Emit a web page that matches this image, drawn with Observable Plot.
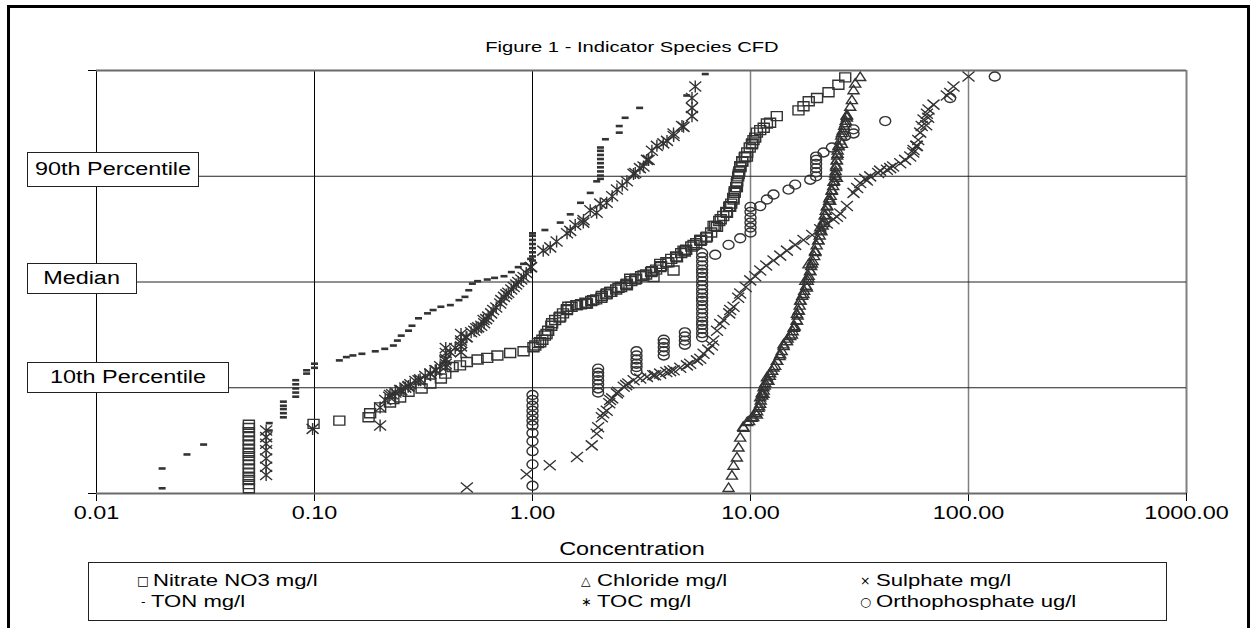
<!DOCTYPE html>
<html><head><meta charset="utf-8">
<script src="https://cdn.jsdelivr.net/npm/d3@7"></script>
<script src="https://cdn.jsdelivr.net/npm/@observablehq/plot@0.6"></script>
<style>
html,body{margin:0;padding:0;background:#fff;}
#wrap{position:relative;width:1257px;height:628px;overflow:hidden;font-family:"Liberation Sans",Arial,sans-serif;color:#000;background:#fff;}
#frame{position:absolute;left:7px;top:5px;width:1243px;height:700px;border:3px solid #000;box-sizing:border-box;}
#chart{position:absolute;left:0;top:0;}
.sx{display:inline-block;transform:scaleX(1.3);transform-origin:center;white-space:nowrap;}
.sxl{display:inline-block;transform:scaleX(1.3);transform-origin:left center;white-space:nowrap;}
.title{position:absolute;left:132px;width:1000px;top:37px;text-align:center;font-size:15.5px;line-height:20px;}
.xlab{position:absolute;left:132px;width:1000px;top:538px;text-align:center;font-size:18px;line-height:22px;}
.ybox{position:absolute;background:#fff;border:1.5px solid #222;box-sizing:border-box;display:flex;align-items:center;justify-content:center;font-size:18px;}
#legend{position:absolute;left:88px;top:562px;width:1079px;height:59px;border:1.5px solid #222;box-sizing:border-box;background:#fff;}
.li{position:absolute;font-size:17px;line-height:20px;white-space:nowrap;}
.sym{position:absolute;font-family:"DejaVu Sans",sans-serif;font-size:12.5px;line-height:20px;}
</style>
</head>
<body>
<div id="wrap">
  <div id="frame"></div>
  <div id="chart"></div>
  <div class="title"><span class="sx">Figure 1 - Indicator Species CFD</span></div>
  <div class="ybox" style="left:27px;top:152px;width:172px;height:35px;"><span class="sx">90th Percentile</span></div>
  <div class="ybox" style="left:27px;top:263px;width:110px;height:31px;"><span class="sx">Median</span></div>
  <div class="ybox" style="left:27px;top:362px;width:202px;height:31px;"><span class="sx">10th Percentile</span></div>
  <div class="xlab"><span class="sx">Concentration</span></div>
  <div id="legend"></div>
</div>
<script>
// ---- data: [concentration, normal score of cumulative frequency] ----
const nitrate = [
  [0.05,-2.50],[0.05,-2.45],[0.05,-2.40],[0.05,-2.36],[0.05,-2.31],[0.05,-2.26],[0.05,-2.21],[0.05,-2.16],
  [0.05,-2.11],[0.05,-2.07],[0.05,-2.02],[0.05,-1.97],[0.05,-1.92],[0.05,-1.87],[0.05,-1.82],[0.05,-1.77],[0.05,-1.73],
  [0.099,-1.72],[0.13,-1.68],[0.177,-1.64],[0.18,-1.59],[0.20,-1.52],[0.222,-1.46],[0.23,-1.42],[0.247,-1.40],[0.27,-1.33],
  [0.31,-1.29],[0.34,-1.23],[0.38,-1.17],[0.398,-1.11],[0.43,-1.03],[0.465,-1.01],[0.50,-0.97],[0.56,-0.94],[0.62,-0.92],
  [0.69,-0.89],[0.79,-0.86],[0.91,-0.84],[1.01,-0.79],[1.085,-0.73],[1.16,-0.63],[1.23,-0.50],[1.34,-0.42],[1.438,-0.34],
  [1.46,-0.30],[1.60,-0.28],[1.75,-0.25],[1.777,-0.26],[1.90,-0.22],[2.08,-0.17],[2.194,-0.14],[2.27,-0.12],[2.48,-0.07],
  [2.71,-0.02],[2.71,-0.04],[2.807,0.04],[2.96,0.03],[3.23,0.08],[3.53,0.13],[3.59,0.06],[3.85,0.18],[3.853,0.22],
  [4.20,0.24],[4.435,0.14],[4.60,0.30],[4.93,0.38],[5.00,0.37],[5.48,0.45],[5.88,0.51],[5.90,0.50],[6.31,0.55],
  [6.77,0.68],[7.02,0.67],[7.30,0.76],[7.80,0.84],[8.04,0.92],[8.07,0.91],[8.36,1.00],[8.47,1.10],[8.66,1.20],
  [8.66,1.15],[8.83,1.31],[8.97,1.40],[8.97,1.39],[9.16,1.46],[9.46,1.52],[9.63,1.52],[10.15,1.67],[10.32,1.72],
  [10.7,1.81],[11.08,1.84],[11.5,1.87],[11.89,1.92],[12.3,1.93],[13.2,2.01],[16.6,2.08],[17.5,2.13],[18.5,2.19],
  [20.2,2.23],[22.8,2.30],[25.3,2.39],[27.2,2.48],
  [1.03,-0.77],[1.06,-0.74],[1.11,-0.70],[1.14,-0.65],[1.18,-0.59],[1.22,-0.53],[1.27,-0.46],[1.33,-0.43],[1.38,-0.38],
  [1.44,-0.33],[1.51,-0.30],[1.59,-0.28],[1.67,-0.27],[1.76,-0.26],[1.86,-0.23],[1.96,-0.21],[2.07,-0.19],[2.18,-0.15],
  [2.30,-0.12],[2.42,-0.09],[2.55,-0.06],[2.69,-0.03],[2.84,0.01],[2.99,0.04],[3.15,0.07],[3.32,0.09],[3.50,0.12],
  [3.69,0.15],[3.89,0.19],[4.11,0.24],[4.33,0.28],[4.56,0.31],[4.81,0.35],[5.07,0.39],[5.35,0.43],[5.64,0.47],
  [5.94,0.51],[6.26,0.54],[6.60,0.60],[6.89,0.68],[7.19,0.74],[7.50,0.80],[7.74,0.85],[7.99,0.91],[8.16,0.95],
  [8.33,1.02],[8.46,1.08],[8.60,1.15],[8.69,1.22],[8.78,1.28],[8.88,1.34],[8.97,1.40],[9.16,1.46],[9.41,1.51],
  [9.66,1.57],[9.92,1.63],[10.18,1.68],[10.51,1.75]
];
const chloride = [
  [7.93,-2.49],[8.22,-2.34],[8.36,-2.22],[8.66,-2.12],[8.81,-2.00],[8.97,-1.88],[9.29,-1.76],[9.66,-1.69],
  [10.15,-1.64],[10.51,-1.58],[10.70,-1.60],[10.88,-1.52],[11.08,-1.47],[11.08,-1.39],[11.26,-1.34],[11.47,-1.35],
  [11.47,-1.27],[11.68,-1.22],[12.09,-1.19],[11.89,-1.15],[12.31,-1.10],[12.75,-1.03],[13.22,-0.95],[13.69,-0.87],
  [14.17,-0.75],[14.69,-0.71],[14.81,-0.68],[15.49,-0.63],[15.77,-0.55],[15.87,-0.54],[16.33,-0.46],[16.33,-0.38],
  [16.64,-0.34],[16.9,-0.22],[17.5,-0.14],[17.84,0.02],[18.15,-0.06],[18.45,0.05],[18.45,0.22],[18.79,0.14],
  [19.13,0.23],[19.81,0.37],[19.81,0.38],[20.51,0.51],[20.88,0.67],[21.1,0.62],[21.62,0.72],[22.0,0.82],[22.41,0.92],
  [22.96,1.02],[23.21,0.99],[23.63,1.12],[24.03,1.22],[24.46,1.32],[24.91,1.27],[24.72,1.40],[24.91,1.48],[25.1,1.56],
  [25.33,1.65],[26.26,1.68],[26.26,1.81],[27.19,1.93],[27.69,2.00],[27.69,2.03],[28.67,2.13],[29.18,2.21],[29.69,2.33],
  [30.23,2.41],[31.86,2.49],
  [9.26,-1.75],[9.86,-1.68],[10.29,-1.63],[10.73,-1.56],[10.96,-1.50],[11.14,-1.43],[11.32,-1.37],[11.50,-1.31],
  [11.62,-1.25],[11.93,-1.19],[12.25,-1.13],[12.58,-1.07],[12.98,-1.01],[13.26,-0.95],[13.61,-0.89],[13.90,-0.83],
  [14.20,-0.77],[14.66,-0.71],[15.21,-0.65],[15.62,-0.59],[15.95,-0.53],[16.29,-0.46],[16.46,-0.40],[16.64,-0.34],
  [16.81,-0.28],[16.99,-0.22],[17.27,-0.16],[17.63,-0.10],[18.01,-0.04],[18.30,0.02],[18.49,0.08],[18.79,0.14],
  [18.98,0.20],[19.29,0.26],[19.60,0.32],[19.81,0.38],[20.12,0.45],[20.45,0.51],[20.77,0.57],[21.10,0.63],
  [21.44,0.69],[21.67,0.75],[21.90,0.81],[22.13,0.87],[22.48,0.93],[22.96,0.99],[23.33,1.05],[23.58,1.11],
  [23.95,1.17],[24.21,1.23],[24.46,1.29],[24.59,1.35],[24.72,1.42],[24.85,1.48],[24.98,1.54],[25.12,1.60],
  [25.38,1.66],[25.79,1.72],[26.07,1.78],[26.48,1.84],[26.90,1.90],[27.34,1.96],[27.63,2.02]
];
const sulphate = [
  [0.5,-2.49],[0.94,-2.33],[1.2,-2.22],[1.6,-2.12],[1.87,-1.98],[1.97,-1.84],[2.0,-1.76],[2.08,-1.64],
  [2.19,-1.56],[2.27,-1.43],[2.44,-1.35],[2.62,-1.27],[2.75,-1.23],[2.91,-1.19],[3.35,-1.15],[3.58,-1.13],
  [3.85,-1.11],[4.11,-1.09],[4.44,-1.07],[4.76,-1.04],[5.11,-1.01],[5.68,-0.95],[6.09,-0.87],[6.4,-0.82],
  [6.65,-0.77],[7.02,-0.59],[7.52,-0.46],[7.99,-0.38],[8.36,-0.30],[8.97,-0.14],[9.51,-0.06],[9.97,0.02],
  [11.08,0.14],[11.8,0.20],[12.75,0.26],[14.69,0.38],[16.03,0.45],[17.5,0.51],[19.19,0.57],[20.88,0.64],
  [24.03,0.76],[24.91,0.79],[25.8,0.83],[27.69,0.92],[29.69,1.08],[31.86,1.20],[33.6,1.25],[34.2,1.23],[35.41,1.28],
  [38.5,1.32],[39.3,1.35],[42.25,1.36],[45.1,1.40],[48.63,1.44],[51.2,1.48],[54.03,1.52],[55.8,1.57],[55.96,1.60],
  [57.99,1.65],[58.8,1.72],[60.04,1.81],[61.0,1.89],[62.18,1.97],[64.45,2.04],[65.55,2.09],[69.1,2.15],[79.5,2.26],
  [82.43,2.29],[85.35,2.37],[100,2.49],
  [2.11,-1.59],[2.25,-1.47],[2.32,-1.41],[2.47,-1.33],[2.69,-1.25],[3.12,-1.17],[3.65,-1.13],[4.28,-1.08],
  [5.29,-0.99],[5.88,-0.93],[6.75,-0.71],[7.26,-0.51],[8.07,-0.34],[8.78,-0.19],[10.51,0.07],
  [13.69,0.32],[22.39,0.71],[30.86,1.14],[43.74,1.38],[57.56,1.65],[63.97,1.90],[65.34,1.99]
];
const ton = [
  [0.02,-2.50],[0.02,-2.26],[0.026,-2.09],[0.031,-1.97],[0.062,-1.80],[0.062,-1.71],
  [0.072,-1.64],[0.072,-1.59],[0.072,-1.54],[0.072,-1.50],[0.072,-1.45],
  [0.082,-1.39],[0.082,-1.34],[0.082,-1.29],[0.082,-1.24],[0.082,-1.19],
  [0.092,-1.11],[0.092,-1.07],[0.10,-1.04],[0.10,-0.99],[0.13,-0.95],[0.14,-0.91],[0.15,-0.89],[0.165,-0.87],
  [0.19,-0.84],[0.21,-0.81],[0.23,-0.77],[0.24,-0.71],[0.25,-0.65],[0.27,-0.59],[0.28,-0.53],[0.30,-0.44],
  [0.33,-0.38],[0.35,-0.34],[0.38,-0.30],[0.42,-0.28],[0.46,-0.22],[0.49,-0.18],[0.51,-0.10],[0.53,-0.02],
  [0.56,0.01],[0.62,0.03],[0.67,0.05],[0.74,0.07],[0.80,0.12],[0.86,0.18],[0.91,0.22],[0.98,0.28],
  [1.0,0.26],[1.0,0.31],[1.0,0.36],[1.0,0.41],[1.0,0.46],[1.0,0.51],[1.0,0.56],[1.0,0.59],
  [1.14,0.63],[1.34,0.72],[1.49,0.82],[1.66,0.96],[1.84,1.08],[1.97,1.22],
  [2.05,1.25],[2.05,1.29],[2.05,1.34],[2.05,1.39],[2.05,1.44],[2.05,1.49],[2.05,1.54],[2.05,1.59],[2.05,1.63],
  [2.16,1.73],[2.5,1.81],[2.5,1.89],[2.66,1.99],[3.1,2.11],[5.1,2.26],[6.2,2.52]
];
const toc = [
  [0.06,-2.34],[0.06,-2.24],[0.06,-2.14],[0.06,-2.04],[0.06,-1.96],[0.06,-1.88],[0.06,-1.80],
  [0.098,-1.78],[0.20,-1.74],[0.20,-1.52],[0.22,-1.39],[0.227,-1.36],[0.25,-1.31],[0.269,-1.27],[0.27,-1.26],
  [0.30,-1.19],[0.34,-1.11],[0.362,-1.07],[0.40,-1.03],[0.40,-0.99],[0.40,-0.93],[0.40,-0.86],[0.40,-0.80],
  [0.47,-0.85],[0.47,-0.78],[0.47,-0.71],[0.47,-0.63],[0.50,-0.67],[0.54,-0.59],[0.5635,-0.55],[0.596,-0.46],
  [0.60,-0.50],[0.626,-0.42],[0.66,-0.34],[0.711,-0.26],[0.74,-0.18],[0.774,-0.13],[0.82,-0.06],[0.86,0.00],
  [0.91,0.06],[0.98,0.18],[1.12,0.38],[1.206,0.42],[1.29,0.49],[1.44,0.59],[1.49,0.62],[1.57,0.69],[1.71,0.72],
  [1.714,0.75],[1.84,0.87],[1.97,0.84],[2.045,0.95],[2.19,0.96],[2.32,1.04],[2.44,1.12],[2.58,1.17],[2.71,1.22],
  [2.906,1.31],[2.96,1.32],[3.11,1.38],[3.23,1.40],[3.349,1.48],[3.41,1.48],[3.53,1.59],[3.72,1.65],[3.98,1.68],
  [4.14,1.71],[4.435,1.80],[4.44,1.77],[4.85,1.89],[4.93,1.88],[5.39,2.01],[5.39,2.11],[5.39,2.23],[5.58,2.37],
  [0.211,-1.43],[0.222,-1.37],[0.235,-1.34],[0.247,-1.31],[0.261,-1.28],[0.275,-1.24],[0.290,-1.20],[0.305,-1.18],
  [0.322,-1.14],[0.340,-1.11],[0.358,-1.07],[0.377,-1.02],[0.398,-0.95],[0.419,-0.85],[0.442,-0.80],[0.471,-0.74],
  [0.496,-0.67],[0.523,-0.61],[0.552,-0.56],[0.582,-0.53],[0.613,-0.45],[0.646,-0.38],[0.682,-0.31],[0.719,-0.22],
  [0.758,-0.15],[0.799,-0.09],[0.842,-0.03],[0.888,0.03],[0.936,0.11],[0.986,0.18]
];
const orthophosphate = [
  [1,-2.47],[1,-2.21],[1,-2.05],[1,-1.93],[1,-1.83],[1,-1.74],[1,-1.68],[1,-1.62],[1,-1.56],[1,-1.50],[1,-1.43],[1,-1.37],
  [2,-1.34],[2,-1.29],[2,-1.24],[2,-1.19],[2,-1.14],[2,-1.10],[2,-1.05],
  [3,-1.08],[3,-1.03],[3,-0.99],[3,-0.94],[3,-0.89],[3,-0.84],
  [4,-0.89],[4,-0.84],[4,-0.79],[4,-0.74],[4,-0.70],
  [5,-0.76],[5,-0.71],[5,-0.66],[5,-0.61],
  [6,-0.67],[6,-0.62],[6,-0.57],[6,-0.52],[6,-0.48],[6,-0.43],[6,-0.38],[6,-0.33],[6,-0.28],[6,-0.23],[6,-0.19],
  [6,-0.14],[6,-0.09],[6,-0.04],[6,0.01],[6,0.06],[6,0.11],[6,0.15],[6,0.20],[6,0.25],[6,0.30],[6,0.35],
  [6.89,0.33],[7.93,0.45],[8.97,0.53],
  [10,0.60],[10,0.66],[10,0.72],[10,0.78],[10,0.85],[10,0.91],
  [11.08,0.92],[11.89,1.00],[12.75,1.06],[14.94,1.12],[16.03,1.18],[18.79,1.24],
  [20,1.28],[20,1.33],[20,1.38],[20,1.43],[20,1.48],[20,1.52],
  [21.62,1.57],[23.63,1.63],[27.19,1.77],[29.69,1.80],[29.69,1.85],[41.5,1.95],[82.4,2.23],[132,2.49]
];
const seriesNames = ["Nitrate NO3 mg/l","Chloride mg/l","Sulphate mg/l","TON mg/l","TOC mg/l","Orthophosphate ug/l"];
const legendGlyphs = ["\u25A1","\u25B3","\u00D7","-","\u2217","\u25CB"];
const xTicks = [0.01, 0.1, 1, 10, 100, 1000];
const yTicks = [-2.5632, -1.2816, 0, 1.2816, 2.5632];

// ---- marker shapes (horizontally stretched like the original) ----
const K = 0.5523;
const symSquare = {draw(c){ c.rect(-5.5,-4.5,11,9); }};
const symTriangle = {draw(c){ c.moveTo(0,-4.5); c.lineTo(5.5,4); c.lineTo(-5.5,4); c.closePath(); }};
const symTimes = {draw(c){ c.moveTo(-6,-5); c.lineTo(6,5); c.moveTo(-6,5); c.lineTo(6,-5); }};
const symAst = {draw(c){ c.moveTo(-6,-5); c.lineTo(6,5); c.moveTo(-6,5); c.lineTo(6,-5); c.moveTo(0,-6); c.lineTo(0,6); }};
const symDash = {draw(c){ c.rect(-3.5,-1.3,7,2.6); }};
const symEllipse = {draw(c){
  const rx=5.5, ry=4.5;
  c.moveTo(rx,0);
  c.bezierCurveTo(rx,ry*K,rx*K,ry,0,ry);
  c.bezierCurveTo(-rx*K,ry,-rx,ry*K,-rx,0);
  c.bezierCurveTo(-rx,-ry*K,-rx*K,-ry,0,-ry);
  c.bezierCurveTo(rx*K,-ry,rx,-ry*K,rx,0);
  c.closePath();
}};

const rows = (arr) => arr.map(([c, z]) => ({c, z}));
const ink = "#333";
const open = (arr, symbol) => Plot.dot(rows(arr), {x:"c", y:"z", symbol, r:4.5, fill:"none", stroke:ink, strokeWidth:1.4});

const chart = Plot.plot({
  width: 1257, height: 560,
  marginLeft: 96, marginRight: 71, marginTop: 70, marginBottom: 67,
  style: {fontSize:"18px", fontFamily:"'Liberation Sans', Arial, sans-serif", color:"#000", background:"transparent"},
  x: {type:"log", domain:[0.01,1000], ticks:xTicks, tickFormat:d3.format(".2f"), tickSize:8, tickPadding:5, label:null},
  y: {domain:[yTicks[0], yTicks[4]], ticks:yTicks, tickFormat:() => "", tickSize:8, label:null},
  marks: [
    Plot.ruleX(xTicks.slice(0,3), {stroke:"#000", strokeWidth:1}),
    Plot.ruleX(xTicks.slice(3,5), {stroke:"#808080", strokeWidth:1.5}),
    Plot.ruleX(xTicks.slice(5), {stroke:"#808080", strokeWidth:2}),
    Plot.ruleY(yTicks.slice(1,4), {stroke:"#222", strokeWidth:1}),
    Plot.ruleY([yTicks[0], yTicks[4]], {stroke:"#6a6a6a", strokeWidth:2}),
    open(orthophosphate, symEllipse),
    open(sulphate, symTimes),
    open(chloride, symTriangle),
    open(toc, symAst),
    open(nitrate, symSquare),
    Plot.dot(rows(ton), {x:"c", y:"z", symbol:symDash, r:4.5, fill:ink, stroke:"none"})
  ]
});
document.getElementById("chart").appendChild(chart);
// stretch axis texts horizontally like the original figure
chart.querySelectorAll("text").forEach(t => {
  if (!t.textContent) return;
  const w = t.getComputedTextLength();
  if (w > 0) { t.setAttribute("textLength", w * 1.3); t.setAttribute("lengthAdjust", "spacingAndGlyphs"); }
});

// legend
const leg = document.getElementById("legend");
const cols = [48, 492, 771];   // glyph left offsets inside legend box
const rowsY = [8, 29];
seriesNames.forEach((name, i) => {
  const col = i % 3, row = Math.floor(i / 3);
  const g = document.createElement("span");
  g.className = "sym";
  g.textContent = legendGlyphs[i];
  g.style.left = (cols[col] + (i === 3 ? 4 : 0)) + "px";
  g.style.top = rowsY[row] + "px";
  leg.appendChild(g);
  const t = document.createElement("span");
  t.className = "li";
  t.style.left = (cols[col] + (i === 3 ? 14 : 16)) + "px";
  t.style.top = rowsY[row] + "px";
  t.innerHTML = '<span class="sxl">' + name + '</span>';
  leg.appendChild(t);
});
</script>
</body></html>
